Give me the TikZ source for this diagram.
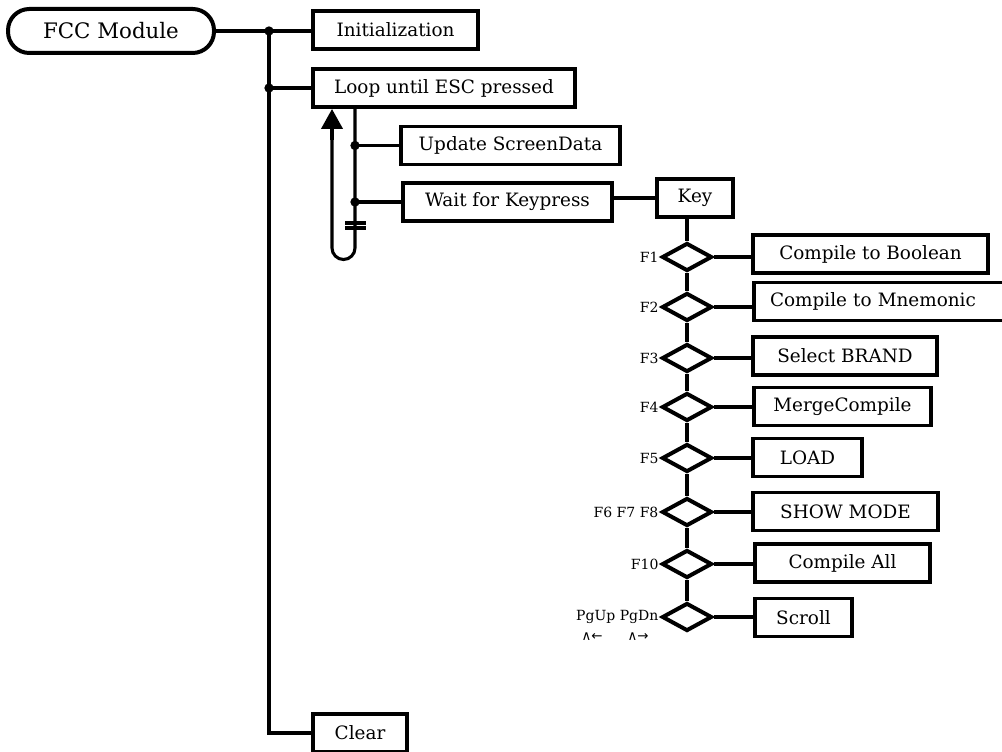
\documentclass[tikz,border=0pt]{standalone}
\usepackage{fontspec}
\setmainfont{DejaVu Serif}
\newfontfamily\symfont{DejaVu Sans}
\usetikzlibrary{shapes.geometric,arrows.meta}
\tikzset{
  box/.style={draw, line width=2.6pt, inner sep=0pt, minimum height=28.5pt, font=\fontsize{13.8}{16}\selectfont},
  pill/.style={draw, line width=3pt, inner sep=0pt, rounded corners=16pt, minimum height=33pt, minimum width=154.5pt, font=\fontsize{16}{18}\selectfont},
  dec/.style={draw, diamond, line width=3pt, inner sep=0pt, minimum width=37.5pt, minimum height=21pt},
  wire/.style={line width=2.3pt},
  jdot/.style={circle, fill=black, inner sep=0pt, minimum size=7pt},
  klabel/.style={anchor=east, inner sep=1pt, font=\fontsize{10.5}{12}\selectfont},
  arrlabel/.style={inner sep=0pt, font=\symfont\fontsize{10}{11}\selectfont},
}
\begin{document}
\begin{tikzpicture}[x=0.75pt, y=-0.75pt]
\useasboundingbox (0,0) rectangle (1002,752);
\clip (0,0) rectangle (1002,752);
% top level
\node[pill] (fcc) at (111,31) {FCC Module};
\node[box, minimum width=123.75pt] (init) at (395.5,30) {Initialization};
\node[box, minimum width=196.5pt] (loop) at (444,88) {Loop until ESC pressed};
\node[box, minimum width=70.5pt] (clear) at (360,733) {Clear};
\node[jdot] (j1) at (269,31) {};
\node[jdot] (j2) at (269,88) {};
\coordinate (jc) at (269,733);
\draw[wire] (fcc.east) -- (j1.center) -- (j1.center -| init.west);
\draw[wire] (j1.center) -- (j2.center) -- (jc) -- (clear.west);
\draw[wire] (j2.center) -- (loop.west);
% loop body
\node[box, minimum width=164.25pt] (update) at (510.5,145.5) {Update ScreenData};
\node[box, minimum width=156.75pt] (wait) at (507.5,202) {Wait for Keypress};
\node[box, minimum width=57pt] (key) at (695,198) {Key};
\node[jdot] (j3) at (355,145.5) {};
\node[jdot] (j4) at (355,202) {};
\coordinate (ltop) at (355,107);
\coordinate (lbot) at (355,248);
\coordinate (rtip) at (332,109);
\draw[wire] (ltop) -- (j3.center) -- (j4.center) -- (lbot) arc[start angle=0, end angle=180, radius=11.5] -- (332,135);
\draw[wire, -{Triangle[width=16pt,length=15pt]}] (332,140) -- (rtip);
\draw[wire] (j3.center) -- (update.west);
\draw[wire] (j4.center) -- (wait.west);
\draw[wire] (345,223) -- (366,223);
\draw[wire] (345,228) -- (366,228);
\draw[wire] (key.west -| wait.east) -- (key.west);
% key dispatch
\node[dec] (d1) at (687,257) {};
\node[dec] (d2) at (687,307) {};
\node[dec] (d3) at (687,358) {};
\node[dec] (d4) at (687,407) {};
\node[dec] (d5) at (687,458) {};
\node[dec] (d6) at (687,512) {};
\node[dec] (d7) at (687,564) {};
\node[dec] (d8) at (687,617) {};
\draw[wire] (d1.north |- key.south) -- (d1.north);
\draw[wire] (d1.south) -- (d2.north);
\draw[wire] (d2.south) -- (d3.north);
\draw[wire] (d3.south) -- (d4.north);
\draw[wire] (d4.south) -- (d5.north);
\draw[wire] (d5.south) -- (d6.north);
\draw[wire] (d6.south) -- (d7.north);
\draw[wire] (d7.south) -- (d8.north);
\node[box, minimum width=176.25pt] (b1) at (870.5,254) {Compile to Boolean};
\node[box, minimum width=192pt, text width=180pt, align=left] (b2) at (882,301.5) {\hspace*{6pt}Compile to Mnemonic};
\node[box, minimum width=138pt] (b3) at (845,356) {Select BRAND};
\node[box, minimum width=132.75pt] (b4) at (842.5,406.5) {MergeCompile};
\node[box, minimum width=81.75pt] (b5) at (807.5,457.5) {LOAD};
\node[box, minimum width=138.75pt] (b6) at (845.5,511.5) {SHOW MODE};
\node[box, minimum width=131.25pt] (b7) at (842.5,563) {Compile All};
\node[box, minimum width=72.75pt] (b8) at (803.5,617.5) {Scroll};
\foreach \i in {1,...,8} {\draw[wire] (d\i.east) -- (d\i.east -| b\i.west);}
% key labels
\node[klabel] (l1) at (d1.west) {F1};
\node[klabel] (l2) at (d2.west) {F2};
\node[klabel] (l3) at (d3.west) {F3};
\node[klabel] (l4) at (d4.west) {F4};
\node[klabel] (l5) at (d5.west) {F5};
\node[klabel] (l6) at (d6.west) {F6 F7 F8};
\node[klabel] (l7) at (d7.west) {F10};
\node[klabel] (l8) at (d8.west) {PgUp PgDn};
\node[arrlabel] (a1) at (592,637) {∧←};
\node[arrlabel] (a2) at (638,637) {∧→};
\end{tikzpicture}
\end{document}
